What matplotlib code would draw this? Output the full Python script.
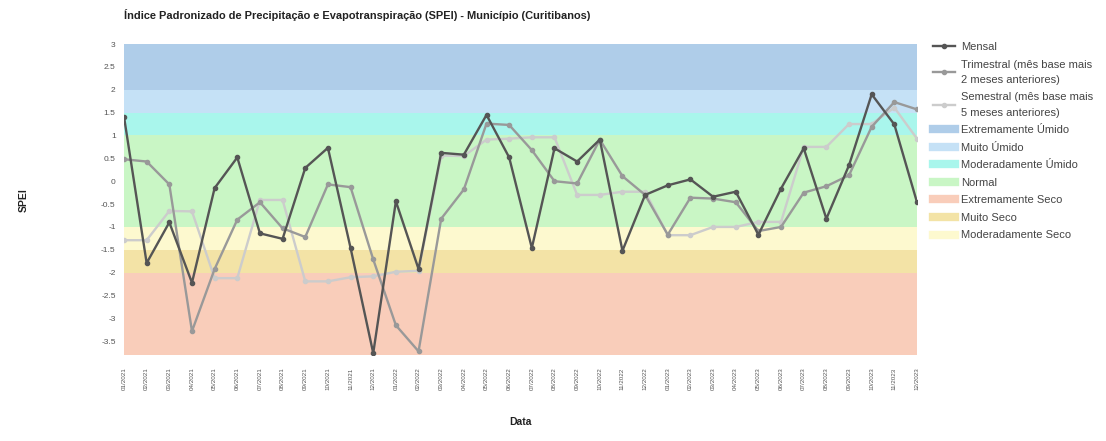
import matplotlib
matplotlib.use("Agg")
import matplotlib.pyplot as plt
from matplotlib.lines import Line2D

plt.rcParams['font.family'] = ['Liberation Sans', 'DejaVu Sans']

months = ["01/2021","02/2021","03/2021","04/2021","05/2021","06/2021","07/2021","08/2021","09/2021","10/2021","11/2021","12/2021",
          "01/2022","02/2022","03/2022","04/2022","05/2022","06/2022","07/2022","08/2022","09/2022","10/2022","11/2022","12/2022",
          "01/2023","02/2023","03/2023","04/2023","05/2023","06/2023","07/2023","08/2023","09/2023","10/2023","11/2023","12/2023"]

mensal = [1.41, -1.79, -0.90, -2.22, -0.15, 0.52, -1.14, -1.26, 0.29, 0.73, -1.46, -3.76,
          -0.44, -1.92, 0.62, 0.58, 1.45, 0.52, -1.46, 0.72, 0.43, 0.91, -1.52, -0.30,
          -0.09, 0.04, -0.34, -0.23, -1.17, -0.16, 0.72, -0.82, 0.35, 1.90, 1.24, -0.46]
trimestral = [0.48, 0.43, -0.07, -3.28, -1.92, -0.84, -0.46, -1.03, -1.22, -0.07, -0.13, -1.71,
              -3.15, -3.72, -0.82, -0.18, 1.26, 1.23, 0.68, 0.00, -0.05, 0.91, 0.11, -0.30,
              -1.17, -0.36, -0.38, -0.46, -1.09, -1.00, -0.25, -0.11, 0.13, 1.19, 1.73, 1.57]
semestral = [-1.29, -1.29, -0.65, -0.66, -2.12, -2.12, -0.41, -0.41, -2.19, -2.19, -2.10, -2.08,
             -1.98, -1.96, 0.56, 0.55, 0.91, 0.93, 0.96, 0.96, -0.30, -0.30, -0.23, -0.23,
             -1.18, -1.18, -1.00, -1.00, -0.89, -0.89, 0.75, 0.75, 1.25, 1.25, 1.61, 0.93]

band_labels = ["Extremamente Úmido", "Muito Úmido", "Moderadamente Úmido", "Normal",
               "Extremamente Seco", "Muito Seco", "Moderadamente Seco"]
band_lo = [2.0, 1.5, 1.0, -1.0, -3.8, -2.0, -1.5]
band_hi = [3.0, 2.0, 1.5, 1.0, -2.0, -1.5, -1.0]
band_colors = ["#afcde9", "#c5e1f6", "#a9f6ec", "#c9f6c5", "#f9cdba", "#f3e3a6", "#fdf9cf"]

series_labels = ["Mensal", "Trimestral (mês base mais\n2 meses anteriores)",
                 "Semestral (mês base mais\n5 meses anteriores)"]
series_colors = ["#555555", "#999999", "#cccccc"]

yticks = [3, 2.5, 2, 1.5, 1, 0.5, 0, -0.5, -1, -1.5, -2, -2.5, -3, -3.5]
ytick_labels = ["3", "2.5", "2", "1.5", "1", "0.5", "0", "-0.5", "-1", "-1.5", "-2", "-2.5", "-3", "-3.5"]
ylo, yhi = -3.8, 3.0

fig = plt.figure(figsize=(11.06, 4.41), dpi=100)
ax = fig.add_axes([124/1106, 1-355/441, (917-124)/1106, (355-44)/441])

x = list(range(len(months)))
for lo, hi, c in zip(band_lo, band_hi, band_colors):
    ax.axhspan(lo, hi, color=c, lw=0, zorder=0)

for ys, c in zip([semestral, trimestral, mensal], series_colors[::-1]):
    ax.plot(x, ys, color=c, lw=1.7, marker="o", ms=3, zorder=3)

ax.set_xlim(0, len(months)-1)
ax.set_ylim(ylo, yhi)
ax.set_yticks(yticks)
ax.set_yticklabels(ytick_labels, fontsize=6, color="#555555")
ax.set_xticks(x)
ax.set_xticklabels(months, rotation=90, fontsize=4.5, color="#555555")
ax.tick_params(axis="y", length=0, pad=6)
ax.tick_params(axis="x", length=0, pad=9)
for s in ax.spines.values():
    s.set_visible(False)

fig.text(24/1106, 1-200/441, "SPEI", rotation=90, fontsize=7.5, fontweight="bold",
         ha="center", va="center", color="#222222")
fig.text(521/1106, 1-422/441, "Data", fontsize=7.5, fontweight="bold",
         ha="center", va="center", color="#222222")
fig.text(124/1106, 1-15/441, "Índice Padronizado de Precipitação e Evapotranspiração (SPEI) - Município (Curitibanos)",
         fontsize=7.9, fontweight="bold", ha="left", va="center", color="#222222")

handles = [Line2D([], [], color=c, lw=1.7, marker="o", ms=3) for c in series_colors]
handles += [Line2D([], [], color=c, lw=6) for c in band_colors]
labels = series_labels + band_labels
leg = fig.legend(handles, labels, loc="upper left", bbox_to_anchor=(923/1106, 1-32/441),
                 frameon=False, fontsize=8.0, handlelength=2.0, labelspacing=0.68,
                 handletextpad=0.5, labelcolor="#444444")
for t in leg.get_texts():
    t.set_linespacing(1.65)

fig.savefig("out.png", dpi=100, facecolor="white")
